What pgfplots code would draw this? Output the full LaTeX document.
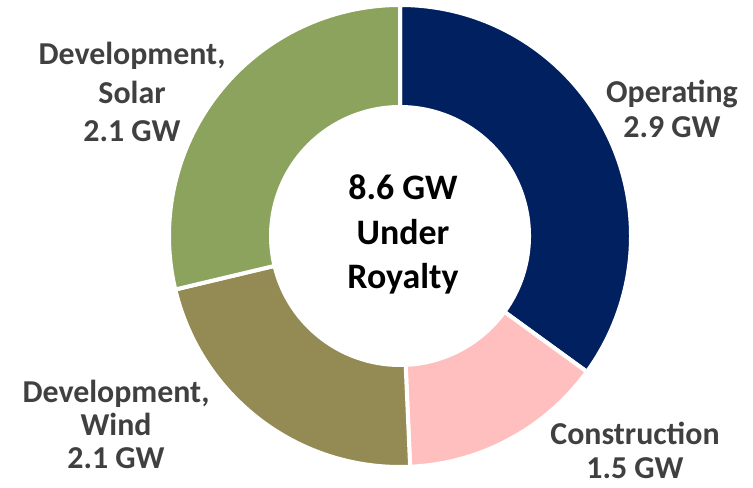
\documentclass[border=0pt]{standalone}
\usepackage{pgfplots}
\usepackage{pgfplotstable}
\pgfplotsset{compat=1.18}
\usepackage{fontspec}
\setmainfont{Carlito}
\definecolor{cOper}{HTML}{002060}
\definecolor{cCons}{HTML}{FFBFBF}
\definecolor{cWind}{HTML}{948A54}
\definecolor{cSolar}{HTML}{8BA35C}
\definecolor{lbl}{HTML}{404040}

% slice sizes (GW-equivalent shares)
\pgfplotstableread{
name value
Operating 3.01
Construction 1.23
Wind 1.89
Solar 2.47
}\slices

\pgfplotstablegetelem{0}{value}\of\slices \let\vA\pgfplotsretval
\pgfplotstablegetelem{1}{value}\of\slices \let\vB\pgfplotsretval
\pgfplotstablegetelem{2}{value}\of\slices \let\vC\pgfplotsretval
\pgfplotstablegetelem{3}{value}\of\slices \let\vD\pgfplotsretval
\pgfmathsetmacro\total{\vA+\vB+\vC+\vD}
\pgfmathsetmacro\aA{90}
\pgfmathsetmacro\aB{\aA-360*\vA/\total}
\pgfmathsetmacro\aC{\aB-360*\vB/\total}
\pgfmathsetmacro\aD{\aC-360*\vC/\total}
\pgfmathsetmacro\aE{\aD-360*\vD/\total}

\newcommand{\donutslice}[3]{% color, start, end
  \fill[#1, draw=white, line width=4bp, line join=miter]
    (axis cs:{400+231*cos(#2)},{252+231*sin(#2)})
    arc[start angle=#2, end angle=#3, radius=231bp]
    -- (axis cs:{400+129*cos(#3)},{252+129*sin(#3)})
    arc[start angle=#3, end angle=#2, radius=129bp] -- cycle;}

\begin{document}
\begin{tikzpicture}
\begin{axis}[
  x=1bp, y=1bp,
  xmin=0, xmax=753, ymin=0, ymax=488,
  hide axis, clip=false,
]
\path (axis cs:0,0) rectangle (axis cs:753,488);
\donutslice{cOper}{\aA}{\aB}
\donutslice{cCons}{\aB}{\aC}
\donutslice{cWind}{\aC}{\aD}
\donutslice{cSolar}{\aD}{\aE}

\tikzset{lab/.style={anchor=base, inner sep=0pt, text=lbl, font=\fontsize{32}{37}\selectfont\bfseries},
         ctr/.style={anchor=base, inner sep=0pt, text=black, font=\fontsize{36}{44}\selectfont\bfseries}}
% Operating
\node[lab] at (axis cs:672,{488-103}) {Operating};
\node[lab] at (axis cs:672,{488-138}) {2.9 GW};
% Construction
\node[lab] at (axis cs:635,{488-445}) {Construction};
\node[lab] at (axis cs:635,{488-479}) {1.5 GW};
% Wind
\node[lab] at (axis cs:116,{488-403}) {Development,};
\node[lab] at (axis cs:116,{488-436}) {Wind};
\node[lab] at (axis cs:116,{488-469}) {2.1 GW};
% Solar
\node[lab] at (axis cs:132,{488-65}) {Development,};
\node[lab] at (axis cs:132,{488-104}) {Solar};
\node[lab] at (axis cs:132,{488-142}) {2.1 GW};
% Centre
\node[ctr] at (axis cs:403,{488-200}) {8.6 GW};
\node[ctr] at (axis cs:403,{488-245}) {Under};
\node[ctr] at (axis cs:403,{488-289}) {Royalty};
\end{axis}
\end{tikzpicture}
\end{document}
